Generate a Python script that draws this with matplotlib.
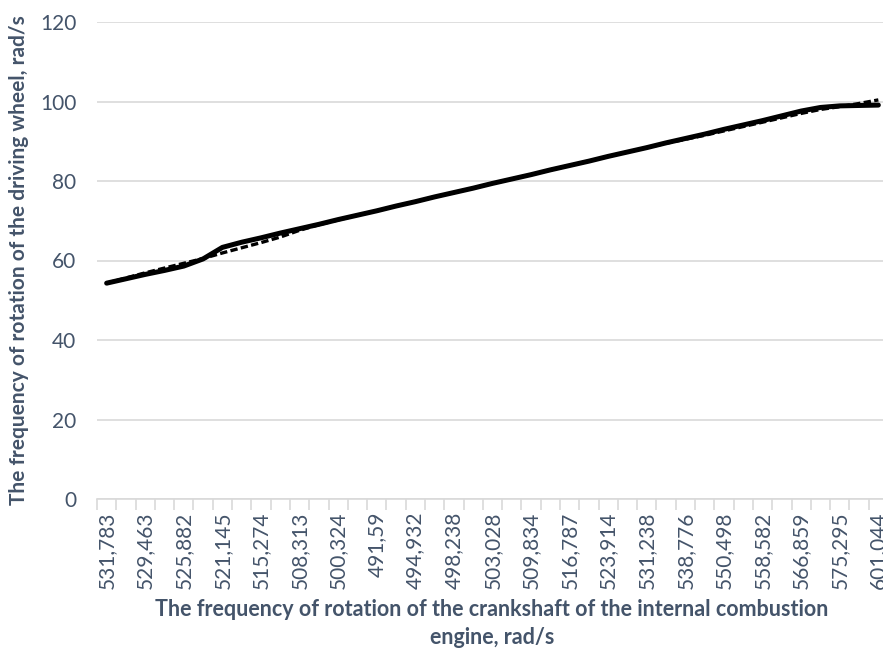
import matplotlib.pyplot as plt

# visible category labels (every second category is labelled)
x_labels = ["531,783", "529,463", "525,882", "521,145", "515,274", "508,313",
            "500,324", "491,59", "494,932", "498,238", "503,028", "509,834",
            "516,787", "523,914", "531,238", "538,776", "550,498", "558,582",
            "566,859", "575,295", "601,044"]

# driving wheel frequency, rad/s (41 categories)
wheel_solid = [54.3, 55.4, 56.5, 57.5, 58.6, 60.4, 63.3, 64.6, 65.7, 66.9,
               68.0, 69.1, 70.3, 71.4, 72.5, 73.7, 74.8, 76.0, 77.1, 78.2,
               79.4, 80.5, 81.6, 82.8, 83.9, 85.0, 86.2, 87.3, 88.4, 89.6,
               90.7, 91.8, 93.0, 94.1, 95.2, 96.4, 97.6, 98.5, 98.9, 99.0,
               99.1]
wheel_dashed = [54.3, 55.6, 56.9, 58.1, 59.3, 60.5, 61.9, 63.2, 64.5, 65.9,
                67.6, 69.0, 70.2, 71.4, 72.5, 73.7, 74.8, 76.0, 77.1, 78.2,
                79.4, 80.5, 81.6, 82.8, 83.9, 85.0, 86.2, 87.3, 88.4, 89.5,
                90.5, 91.5, 92.6, 93.7, 94.8, 95.9, 97.0, 98.0, 98.7, 99.5,
                100.4]

plt.rcParams['font.family'] = ['Lato', 'DejaVu Sans']
txt_color = "#44546A"
grid_color = "#D9D9D9"

fig = plt.figure(figsize=(8.83, 6.5), dpi=100)
ax = fig.add_axes([97 / 883, 151 / 650, 791 / 883, 477 / 650])

x = list(range(len(wheel_solid)))
ax.plot(x, wheel_dashed, color="black", lw=2.4, linestyle=(0, (2.2, 1.0)), zorder=3)
ax.plot(x, wheel_solid, color="black", lw=3.6, solid_capstyle="round",
        solid_joinstyle="round", zorder=2)

ax.set_xlim(-0.5, len(wheel_solid) - 0.5)
ax.set_ylim(0, 120)
ax.set_yticks(range(0, 121, 20))
ax.yaxis.grid(True, color=grid_color, lw=1.2)
ax.set_axisbelow(True)

ax.set_xticks(range(0, len(wheel_solid), 2))
ax.set_xticklabels(x_labels, rotation=90)
ax.set_xticks([i - 0.5 for i in range(len(wheel_solid) + 1)], minor=True)
ax.tick_params(axis="x", which="major", length=0, pad=9, labelsize=15, labelcolor=txt_color)
ax.tick_params(axis="x", which="minor", length=8, width=1.2, color=grid_color)
ax.tick_params(axis="y", length=0, pad=15, labelsize=15, labelcolor=txt_color)

for s in ["top", "right", "left"]:
    ax.spines[s].set_visible(False)
ax.spines["bottom"].set_color(grid_color)
ax.spines["bottom"].set_linewidth(1.2)

fig.text(492 / 883, 1 - 610 / 650, "The frequency of rotation of the crankshaft of the internal combustion",
         ha="center", va="center", fontsize=15.5, fontweight="bold", color=txt_color)
fig.text(492 / 883, 1 - 637 / 650, "engine, rad/s",
         ha="center", va="center", fontsize=15.5, fontweight="bold", color=txt_color)
fig.text(19 / 883, 1 - 260 / 650, "The frequency of rotation of the driving wheel, rad/s",
         ha="center", va="center", rotation=90, fontsize=15, fontweight="bold", color=txt_color)

fig.savefig("out.png", dpi=100)
